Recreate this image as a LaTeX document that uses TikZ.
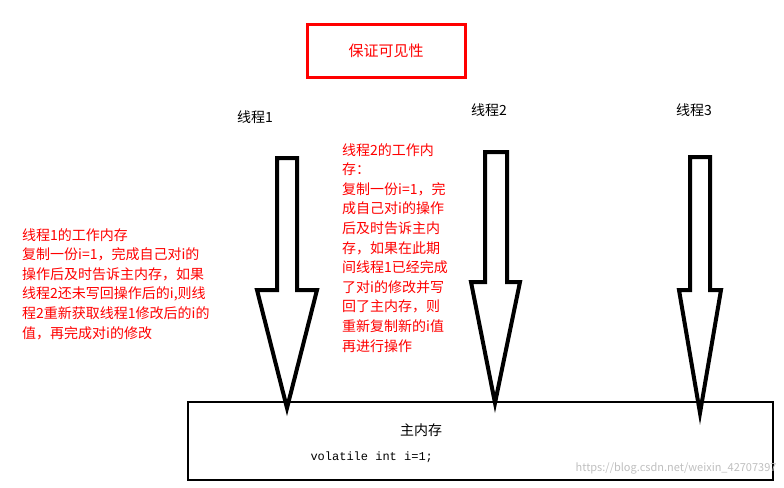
\documentclass[tikz,border=0pt]{standalone}
\usepackage{fontspec}
\setmainfont{Noto Sans CJK SC}
\setmonofont{Liberation Mono}
\usetikzlibrary{positioning}
\tikzset{
  redtext/.style = {text=red, font=\fontsize{14}{19.6}\selectfont, align=left, inner sep=0pt, anchor=north west},
  thread/.style = {font=\fontsize{14}{16}\selectfont, inner sep=0pt},
  bigarrow/.style = {draw=black, line width=4pt, fill=white, line join=miter}
}
\begin{document}
\begin{tikzpicture}[x=1pt,y=-1pt]
  \useasboundingbox (0,0) rectangle (784,487);
  % title
  \node[draw=red, line width=3pt, minimum width=158pt, minimum height=52pt,
        text=red, font=\fontsize{15}{18}\selectfont] (title) at (386,51) {保证可见性};
  % threads
  \node[thread] (t1) at (255,117) {线程1};
  \node[thread] (t2) at (489,110) {线程2};
  \node[thread] (t3) at (694,110) {线程3};
  % arrows
  \draw[bigarrow] (277,158) -- (297,158) -- (297,290) -- (317,290) -- (287,408)
                  -- (257,290) -- (277,290) -- cycle;
  \draw[bigarrow] (485,152) -- (507,152) -- (507,282) -- (520,282) -- (495,403)
                  -- (471,282) -- (485,282) -- cycle;
  \draw[bigarrow] (690,157) -- (710,157) -- (710,290) -- (721,290) -- (700,413)
                  -- (679,290) -- (690,290) -- cycle;
  % main memory
  \draw[line width=2pt] (188,402) rectangle (773,480);
  \node[font=\fontsize{14}{16}\selectfont] (mem) at (421,430) {主内存};
  \node[font=\ttfamily\fontsize{12}{14}\selectfont, anchor=west] (var) at (307,457) {volatile int i=1;};
  % notes
  \node[redtext] (note1) at (22,228) {线程1的工作内存\\复制一份i=1，完成自己对i的\\操作后及时告诉主内存，如果\\线程2还未写回操作后的i,则线\\程2重新获取线程1修改后的i的\\值，再完成对i的修改};
  \node[redtext] (note2) at (342,143) {线程2的工作内\\存：\\复制一份i=1，完\\成自己对i的操作\\后及时告诉主内\\存，如果在此期\\间线程1已经完成\\了对i的修改并写\\回了主内存，则\\重新复制新的i值\\再进行操作};
  \node[text=black!25, font=\fontsize{11}{12}\selectfont, anchor=east] (wm) at (780,468) {https://blog.csdn.net/weixin\_42707397};
\end{tikzpicture}
\end{document}
